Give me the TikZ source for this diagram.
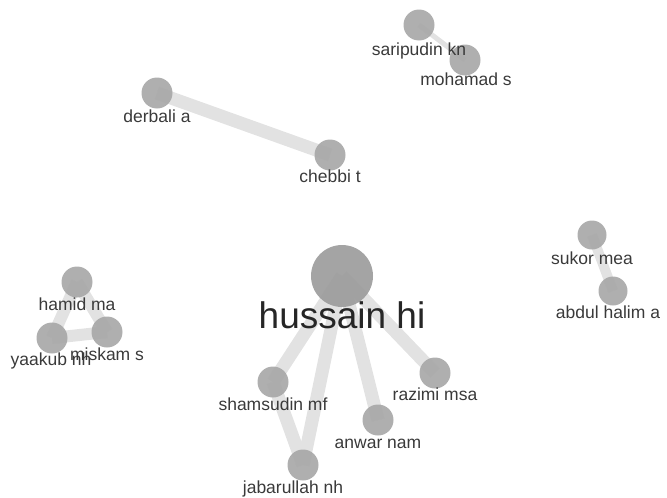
\documentclass[tikz,border=0pt]{standalone}
\usepackage{fontspec}
\setmainfont{Liberation Sans}
\definecolor{nodegray}{HTML}{A8A8A8}
\definecolor{biggray}{HTML}{9C9C9C}
\definecolor{edgegray}{HTML}{E2E2E2}
\definecolor{txt}{HTML}{3A3A3A}
\pgfdeclarelayer{bg}
\pgfsetlayers{bg,main}
\begin{document}
\begin{tikzpicture}[x=1pt,y=-1pt,
  vert/.style={circle,fill=nodegray,fill opacity=0.92,draw=none,minimum size=31pt,inner sep=0pt},
  smallvert/.style={vert,minimum size=29pt},
  bigvert/.style={circle,fill=biggray,fill opacity=0.92,draw=none,minimum size=62pt,inner sep=0pt},
  lab/.style={anchor=base,text=txt,inner sep=0pt,font=\fontsize{17.5}{19}\selectfont},
  biglab/.style={anchor=base,text=black!85,inner sep=0pt,font=\fontsize{37}{40}\selectfont},
  link/.style={draw=edgegray,line width=#1},
  link/.default=13pt]
\useasboundingbox (0,0) rectangle (667,498);
% vertices
\node[bigvert] (hus) at (342,276) {};
\node[vert] (sha) at (273,382) {};
\node[vert] (jab) at (303,465) {};
\node[vert] (anw) at (378,420) {};
\node[vert] (raz) at (435,373) {};
\node[vert] (ham) at (77,282) {};
\node[vert] (yaa) at (52,338) {};
\node[vert] (mis) at (107,332) {};
\node[vert] (sar) at (419,25) {};
\node[vert] (moh) at (465,60) {};
\node[vert] (der) at (157,93) {};
\node[vert] (che) at (330,155) {};
\node[smallvert] (suk) at (592,235) {};
\node[smallvert] (abd) at (613,291) {};
% links behind the vertices
\begin{pgfonlayer}{bg}
\path[link] (hus.center) -- (sha.center);
\path[link] (hus.center) -- (jab.center);
\path[link] (hus.center) -- (anw.center);
\path[link] (hus.center) -- (raz.center);
\path[link] (sha.center) -- (jab.center);
\path[link=12pt] (ham.center) -- (yaa.center);
\path[link=12pt] (ham.center) -- (mis.center);
\path[link=12pt] (yaa.center) -- (mis.center);
\path[link=5pt] (sar.center) -- (moh.center);
\path[link] (der.center) -- (che.center);
\path[link=10pt] (suk.center) -- (abd.center);
\end{pgfonlayer}
% labels
\node[biglab] (lhus) at (342,328) {hussain hi};
\node[lab] (lsha) at (273,410) {shamsudin mf};
\node[lab] (ljab) at (293,493) {jabarullah nh};
\node[lab] (lanw) at (378,448) {anwar nam};
\node[lab] (lraz) at (435,400) {razimi msa};
\node[lab] (lham) at (77,310) {hamid ma};
\node[lab] (lyaa) at (51,365) {yaakub nh};
\node[lab] (lmis) at (107,360) {miskam s};
\node[lab] (lsar) at (419,55) {saripudin kn};
\node[lab] (lmoh) at (466,85) {mohamad s};
\node[lab] (lder) at (157,122) {derbali a};
\node[lab] (lche) at (330,182) {chebbi t};
\node[lab] (lsuk) at (592,264) {sukor mea};
\node[lab] (labd) at (608,318) {abdul halim a};
\end{tikzpicture}
\end{document}
